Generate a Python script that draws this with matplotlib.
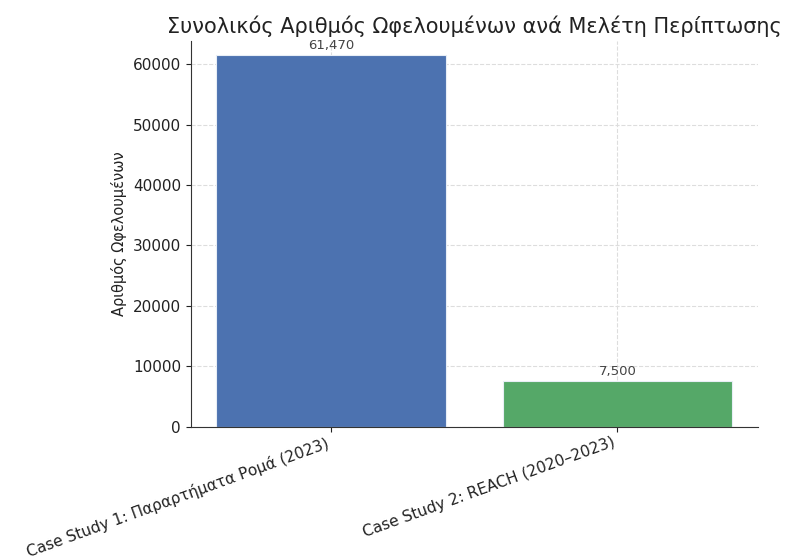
import matplotlib.pyplot as plt

# data
cases = ["Case Study 1: Παραρτήματα Ρομά (2023)", "Case Study 2: REACH (2020–2023)"]
beneficiaries = [61470, 7500]
colors = ["#4C72B0", "#55A868"]

fig, ax = plt.subplots(figsize=(7.9, 5.59), dpi=100)
fig.subplots_adjust(left=0.2414, right=0.9591, bottom=0.2367, top=0.9272)

bars = ax.bar(cases, beneficiaries, color=colors, width=0.8, edgecolor="#e8eef6", linewidth=0.8, zorder=2)

for b, v in zip(bars, beneficiaries):
    ax.text(b.get_x() + b.get_width() / 2, v + 600, f"{v:,}", ha="center", va="bottom",
            fontsize=9.5, color="#444444")

ax.set_ylim(0, 63900)
ax.set_title("Συνολικός Αριθμός Ωφελουμένων ανά Μελέτη Περίπτωσης", fontsize=15, color="#222222", pad=5.5)
ax.set_ylabel("Αριθμός Ωφελουμένων", fontsize=10.5, color="#222222")
ax.grid(True, linestyle="--", color="#dddddd", linewidth=0.8, zorder=0)
ax.set_axisbelow(True)
ax.spines["top"].set_visible(False)
ax.spines["right"].set_visible(False)
ax.spines["left"].set_color("#333333")
ax.spines["bottom"].set_color("#333333")
ax.tick_params(axis="y", labelsize=11, colors="#222222")
ax.tick_params(axis="x", labelsize=11.1, colors="#222222", pad=2.5)
plt.setp(ax.get_xticklabels(), rotation=20, ha="right")

fig.savefig("out.png", dpi=100)
